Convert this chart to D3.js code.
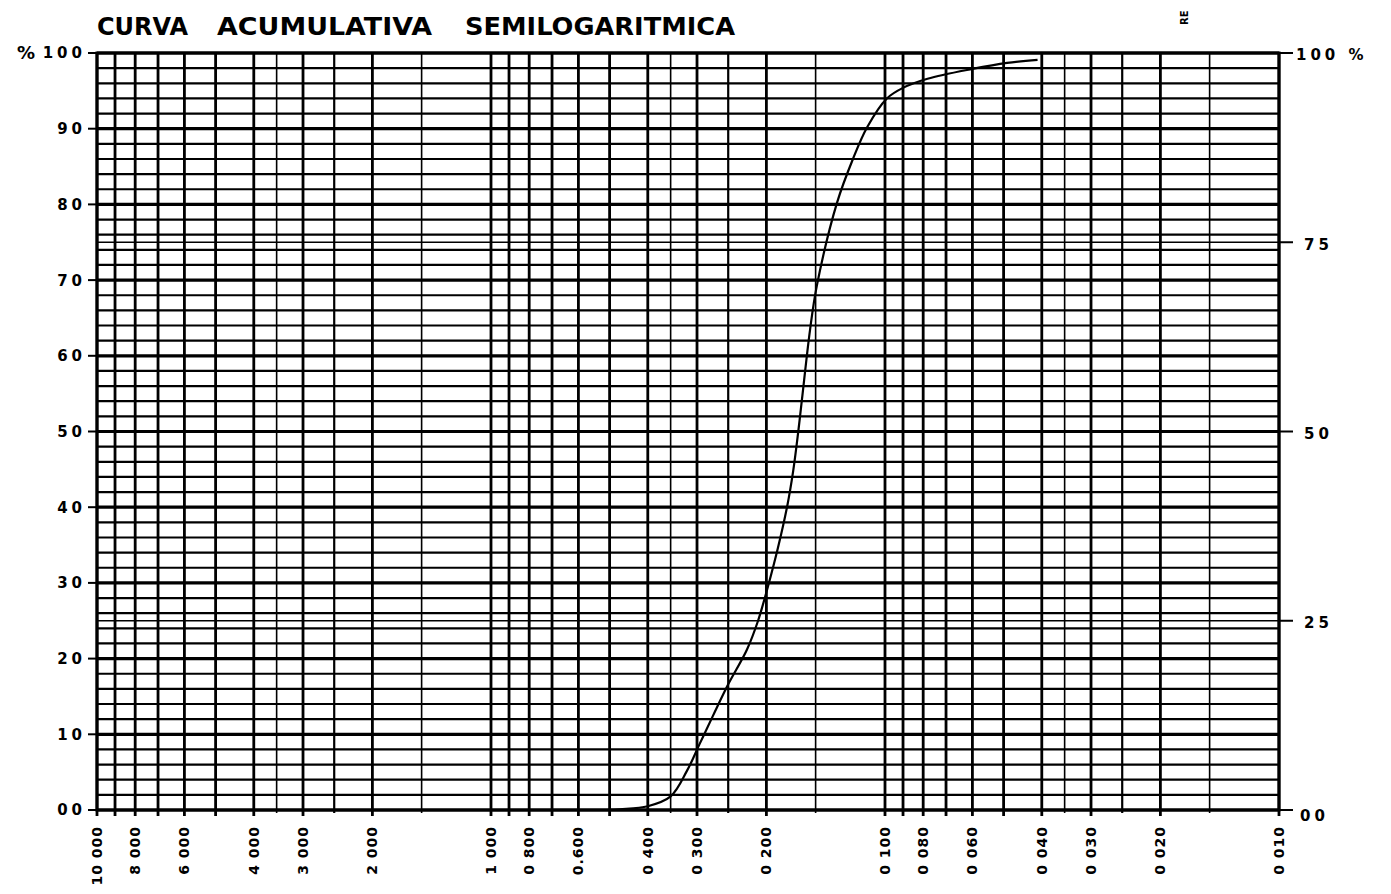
<!DOCTYPE html>
<html>
<head>
<meta charset="utf-8">
<script src="https://cdn.jsdelivr.net/npm/d3@7"></script>
<style>
  html, body { margin: 0; padding: 0; background: #fff; }
  svg { display: block; }
  text { font-family: "DejaVu Sans", "Liberation Sans", sans-serif; font-weight: bold; fill: #000; }
</style>
</head>
<body>
<svg id="chart" width="1391" height="894"></svg>
<script>
// ---- data ----
const titleWords = ["CURVA", "ACUMULATIVA", "SEMILOGARITMICA"];
const sizes = [0.51, 0.47, 0.40, 0.35, 0.318, 0.295, 0.273, 0.25, 0.224, 0.21, 0.198, 0.187, 0.177, 0.171, 0.166, 0.1625, 0.155, 0.149, 0.1324, 0.1206, 0.111, 0.0989, 0.090, 0.078, 0.060, 0.049, 0.041];
const cumulative = [0, 0.1, 0.5, 1.8, 5.2, 8.8, 12.5, 16.6, 21.2, 25, 29.6, 34.6, 40.2, 44.8, 50, 54.2, 63.4, 69.2, 80.2, 86, 90.2, 94, 95.4, 96.6, 97.9, 98.7, 99.1];
const xTickValues = [10, 8, 6, 4, 3, 2, 1, 0.8, 0.6, 0.4, 0.3, 0.2, 0.1, 0.08, 0.06, 0.04, 0.03, 0.02, 0.01];
const xTickLabels = ["10 000", "8 000", "6 000", "4 000", "3 000", "2 000", "1 000", "0 800", "0.600", "0 400", "0 300", "0 200", "0 100", "0 080", "0 060", "0 040", "0 030", "0 020", "0 010"];
const decades = [10, 1, 0.1];
const majorMultipliers = [1, 0.9, 0.8, 0.7, 0.6, 0.5, 0.4, 0.3, 0.2];
const minorMultipliers = [0.35, 0.25, 0.15];
const leftTickValues = [0, 10, 20, 30, 40, 50, 60, 70, 80, 90, 100];
const leftTickLabels = ["00", "10", "20", "30", "40", "50", "60", "70", "80", "90", "100"];
const rightTickValues = [0, 25, 50, 75, 100];
const rightTickLabels = ["00", "25", "50", "75", "100 %"];
const extraLines = [25, 75];

// ---- scales ----
const svg = d3.select("#chart");
const x = d3.scaleLog().domain([10, 0.01]).range([97, 1279]);
const y = d3.scaleLinear().domain([0, 100]).range([810, 53]);

const gGrid = svg.append("g");

// horizontal lines every 2 %
const hVals = d3.range(0, 101, 2);
gGrid.selectAll("line.h").data(hVals).join("line")
  .attr("x1", x(10)).attr("x2", x(0.01))
  .attr("y1", d => y(d)).attr("y2", d => y(d))
  .attr("stroke", "#000")
  .attr("stroke-width", d => d % 10 === 0 ? 3.2 : 2.2);

gGrid.selectAll("line.e").data(extraLines).join("line")
  .attr("x1", x(10)).attr("x2", x(0.01))
  .attr("y1", d => y(d)).attr("y2", d => y(d))
  .attr("stroke", "#000").attr("stroke-width", 1.4);

// vertical lines
const majorV = [];
decades.forEach(dd => majorMultipliers.forEach(m => majorV.push(dd * m)));
majorV.push(0.01);
const minorV = [];
decades.forEach(dd => minorMultipliers.forEach(m => minorV.push(dd * m)));

gGrid.selectAll("line.vmaj").data(majorV).join("line")
  .attr("x1", d => x(d)).attr("x2", d => x(d))
  .attr("y1", y(100)).attr("y2", y(0) + 6)
  .attr("stroke", "#000").attr("stroke-width", 2.8);

gGrid.selectAll("line.vmin").data(minorV).join("line")
  .attr("x1", d => x(d)).attr("x2", d => x(d))
  .attr("y1", y(100)).attr("y2", y(0) + 3)
  .attr("stroke", "#000").attr("stroke-width", d => {
    const r = d / Math.pow(10, Math.floor(Math.log10(d) + 1e-9));
    return Math.abs(r - 2.5) < 0.01 ? 2.2 : 1.6;
  });

// border
svg.append("rect")
  .attr("x", x(10)).attr("y", y(100))
  .attr("width", x(0.01) - x(10)).attr("height", y(0) - y(100))
  .attr("fill", "none").attr("stroke", "#000").attr("stroke-width", 3);

// left ticks and labels
svg.selectAll("line.lt").data(leftTickValues).join("line")
  .attr("x1", x(10) - 9).attr("x2", x(10))
  .attr("y1", d => y(d)).attr("y2", d => y(d))
  .attr("stroke", "#000").attr("stroke-width", 2);
svg.selectAll("text.ll").data(leftTickValues).join("text")
  .attr("x", 86).attr("y", d => y(d))
  .attr("dy", "0.36em")
  .attr("text-anchor", "end")
  .attr("font-size", 15)
  .attr("letter-spacing", 4)
  .text((d, i) => leftTickLabels[i]);
svg.append("text")
  .attr("x", 17).attr("y", y(100)).attr("dy", "0.36em")
  .attr("font-size", 18).text("%");

// right ticks and labels
svg.selectAll("line.rt").data(rightTickValues).join("line")
  .attr("x1", x(0.01)).attr("x2", x(0.01) + 14)
  .attr("y1", d => y(d)).attr("y2", d => y(d))
  .attr("stroke", "#000").attr("stroke-width", 2);
svg.selectAll("text.rl").data(rightTickValues).join("text")
  .attr("x", d => d === 100 ? 1296 : (d === 0 ? 1300 : 1304))
  .attr("y", d => y(d) + (d === 0 ? 6 : 2))
  .attr("dy", "0.36em")
  .attr("font-size", 15)
  .attr("letter-spacing", 4)
  .text((d, i) => rightTickLabels[i]);

// bottom labels (rotated)
svg.selectAll("text.bl").data(xTickValues).join("text")
  .attr("transform", d => `translate(${x(d)},826) rotate(-90)`)
  .attr("text-anchor", "end")
  .attr("dominant-baseline", "central")
  .attr("font-size", 14)
  .attr("letter-spacing", 1)
  .text((d, i) => xTickLabels[i]);

// title
const titlePos = [[97, 91], [217, 215], [465, 270]];
svg.selectAll("text.title").data(titleWords).join("text")
  .attr("x", (d, i) => titlePos[i][0])
  .attr("y", 35)
  .attr("font-size", 24)
  .attr("textLength", (d, i) => titlePos[i][1])
  .attr("lengthAdjust", "spacingAndGlyphs")
  .text(d => d);

// small rotated "RE"
svg.append("text")
  .attr("transform", "translate(1188,25) rotate(-90)")
  .attr("font-size", 10)
  .text("RE");

// curve
const pts = sizes.map((s, i) => [s, cumulative[i]]);
const line = d3.line()
  .x(d => x(d[0])).y(d => y(d[1]))
  .curve(d3.curveCatmullRom.alpha(0.5));
svg.append("path")
  .attr("d", line(pts))
  .attr("fill", "none").attr("stroke", "#000").attr("stroke-width", 2.2);
</script>
</body>
</html>
